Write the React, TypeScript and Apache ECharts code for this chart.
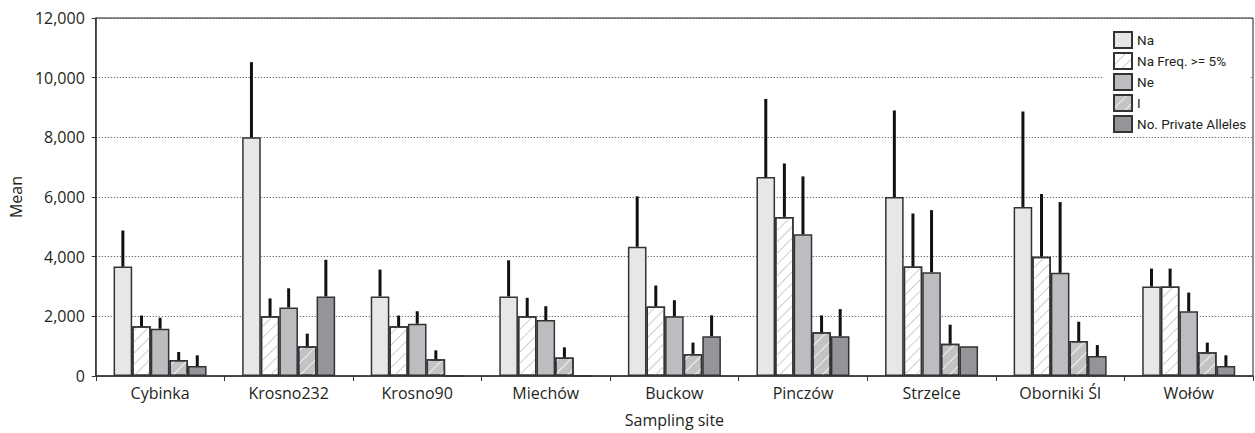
import React, { useEffect, useRef } from "react";
import * as echarts from "echarts";

const categories = ["Cybinka", "Krosno232", "Krosno90", "Miechów", "Buckow", "Pinczów", "Strzelce", "Oborniki Śl", "Wołów"];
const seriesNames = ["Na", "Na Freq. >= 5%", "Ne", "I", "No. Private Alleles"];

const naValues = [3667, 8000, 2667, 2667, 4333, 6667, 6000, 5667, 3000];
const naFreqValues = [1667, 2000, 1667, 2000, 2333, 5333, 3667, 4000, 3000];
const neValues = [1583, 2300, 1750, 1875, 2000, 4750, 3480, 3460, 2167];
const iValues = [533, 1000, 560, 620, 740, 1470, 1080, 1170, 800];
const paValues = [333, 2667, 0, 0, 1333, 1333, 1000, 667, 333];

const naErr = [1210, 2520, 900, 1210, 1690, 2620, 2900, 3200, 600];
const naFreqErr = [360, 600, 360, 620, 700, 1790, 1780, 2100, 600];
const neErr = [370, 640, 420, 465, 540, 1940, 2080, 2370, 630];
const iErr = [270, 420, 300, 340, 380, 560, 640, 650, 320];
const paErr = [360, 1230, 0, 0, 700, 910, 0, 370, 360];

const yTicks = [0, 2000, 4000, 6000, 8000, 10000, 12000];

const FONT = "'Open Sans', 'Noto Sans', sans-serif";
const BAR_W = 18.6;

export default function App() {
  const ref = useRef<HTMLDivElement>(null);
  useEffect(() => {
    document.body.style.margin = "0";
    const chart = echarts.init(ref.current!, null, { renderer: "svg" });
    const values = [naValues, naFreqValues, neValues, iValues, paValues];
    const errs = [naErr, naFreqErr, neErr, iErr, paErr];
    const styles: any[] = [
      { color: "#e6e7e8" },
      {
        color: "#ffffff",
        decal: { symbol: "rect", symbolSize: 1, dashArrayX: [1, 0], dashArrayY: [1, 7], rotation: -Math.PI / 4, color: "#cdcdcd" },
      },
      { color: "#bcbdc0" },
      {
        color: "#c2c3c5",
        decal: { symbol: "rect", symbolSize: 1, dashArrayX: [1, 0], dashArrayY: [1, 8], rotation: -Math.PI / 4, color: "#f2f2f2" },
      },
      { color: "#939598" },
    ];
    const barSeries = seriesNames.map((name, k) => ({
      name,
      type: "bar",
      barWidth: BAR_W,
      barGap: "0%",
      data: values[k],
      itemStyle: { ...styles[k], borderColor: "#333", borderWidth: 1.5 },
      emphasis: { disabled: true },
      z: 2,
    }));
    const errSeries = seriesNames.map((name, k) => ({
      name: name + " err",
      type: "custom",
      data: values[k].map((v, i) => [i, v, errs[k][i]]),
      encode: { x: 0, y: 1 },
      z: 3,
      silent: true,
      renderItem: (params: any, api: any) => {
        const idx = api.value(0);
        const v = api.value(1);
        const e = api.value(2);
        if (!e) return null;
        const p0 = api.coord([idx, v]);
        const p1 = api.coord([idx, v + e]);
        const x = p0[0] + (k - 2) * BAR_W;
        return {
          type: "line",
          shape: { x1: x, y1: p0[1], x2: x, y2: p1[1] },
          style: { stroke: "#111", lineWidth: 3 },
        };
      },
    }));
    chart.setOption({
      animation: false,
      textStyle: { fontFamily: FONT },
      grid: {
        left: 88,
        right: 2,
        top: 18,
        bottom: 57,
        show: true,
        borderColor: "#222",
        borderWidth: 1,
        backgroundColor: "transparent",
      },
      legend: {
        data: seriesNames,
        orient: "vertical",
        icon: "rect",
        left: 1104,
        top: 22,
        padding: [9, 4, 4, 9],
        backgroundColor: "#ffffff",
        itemWidth: 18,
        itemHeight: 16,
        itemGap: 3,
        selectedMode: false,
        textStyle: { fontFamily: "Roboto, 'Open Sans', sans-serif", fontSize: 13.5, color: "#231f20" },
      },
      xAxis: {
        type: "category",
        data: categories,
        name: "Sampling site",
        nameLocation: "middle",
        nameGap: 36,
        nameTextStyle: { fontSize: 16, color: "#231f20", fontFamily: FONT },
        axisLine: { lineStyle: { color: "#333", width: 1.5 } },
        axisTick: { show: true, alignWithLabel: false, length: 5, lineStyle: { color: "#333" } },
        axisLabel: { fontSize: 16, color: "#231f20", margin: 9, fontFamily: FONT },
        splitLine: { show: false },
      },
      yAxis: {
        type: "value",
        min: yTicks[0],
        max: yTicks[yTicks.length - 1],
        interval: 2000,
        name: "Mean",
        nameLocation: "middle",
        nameGap: 64,
        nameTextStyle: { fontSize: 16, color: "#231f20", fontFamily: FONT },
        axisLine: { show: true, lineStyle: { color: "#333", width: 1.5 } },
        axisTick: { show: true, length: 4, lineStyle: { color: "#333" } },
        axisLabel: {
          fontSize: 16,
          color: "#231f20",
          margin: 11,
          fontFamily: FONT,
          formatter: (v: number) => v.toLocaleString("en-US"),
        },
        splitLine: { show: true, lineStyle: { color: "#444", type: [1, 2], width: 1 } },
      },
      series: [...barSeries, ...errSeries],
    });
    return () => chart.dispose();
  }, []);
  return <div ref={ref} style={{ position: "absolute", left: 0, top: 0, width: 1255, height: 433 }} />;
}
